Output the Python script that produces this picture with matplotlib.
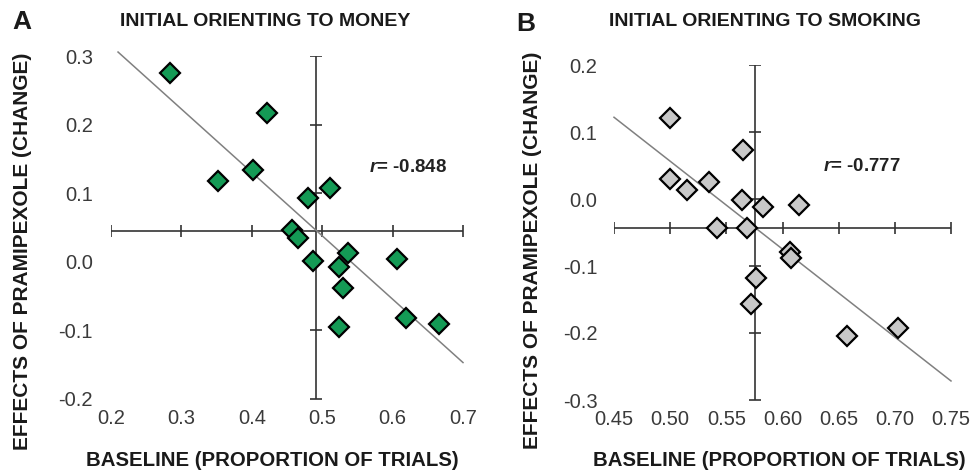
import numpy as np
import matplotlib
matplotlib.use("Agg")
import matplotlib.pyplot as plt

plt.rcParams['font.family'] = ['Liberation Sans', 'DejaVu Sans']
plt.rcParams['mathtext.fontset'] = 'custom'
plt.rcParams['mathtext.it'] = 'Liberation Sans:italic:bold'

# panel A: initial orienting to money
money_x = [0.284, 0.422, 0.402, 0.352, 0.480, 0.511, 0.457, 0.466,
           0.487, 0.537, 0.524, 0.530, 0.524, 0.606, 0.619, 0.666]
money_y = [0.275, 0.217, 0.134, 0.118, 0.093, 0.107, 0.046, 0.035,
           0.001, 0.013, -0.008, -0.038, -0.095, 0.004, -0.082, -0.091]
money_r = "-0.848"

# panel B: initial orienting to smoking
smoke_x = [0.500, 0.565, 0.500, 0.515, 0.535, 0.564, 0.583, 0.615,
           0.542, 0.568, 0.607, 0.608, 0.576, 0.572, 0.657, 0.703]
smoke_y = [0.121, 0.073, 0.030, 0.013, 0.025, -0.001, -0.012, -0.009,
           -0.043, -0.043, -0.079, -0.088, -0.118, -0.157, -0.204, -0.193]
smoke_r = "-0.777"

money_xticks = [0.2, 0.3, 0.4, 0.5, 0.6, 0.7]
money_yticks = [-0.2, -0.1, 0.0, 0.1, 0.2, 0.3]
smoke_xticks = [0.45, 0.50, 0.55, 0.60, 0.65, 0.70, 0.75]
smoke_yticks = [-0.3, -0.2, -0.1, 0.0, 0.1, 0.2]

W, H = 973, 471
fig = plt.figure(figsize=(W / 100, H / 100), dpi=100)
fig.patch.set_facecolor('white')


def px_axes(x0, x1, ytop, ybot):
    return fig.add_axes([x0 / W, 1 - ybot / H, (x1 - x0) / W, (ybot - ytop) / H])


def panel(ax, xs, ys, xticks, yticks, xfmt, fill, fit_range, r, rpos, ypad):
    xs = np.array(xs)
    ys = np.array(ys)
    ax.set_xlim(xticks[0], xticks[-1])
    ax.set_ylim(yticks[0], yticks[-1])
    for s in ax.spines.values():
        s.set_visible(False)
    ax.set_xticks(xticks)
    ax.set_xticklabels([xfmt.format(v) for v in xticks])
    ax.set_yticks(yticks)
    ax.set_yticklabels(["{:.1f}".format(v) for v in yticks])
    ax.tick_params(axis='x', length=0, pad=7, labelsize=14.5, labelcolor='#3a3a3a')
    ax.tick_params(axis='y', length=0, pad=ypad, labelsize=14.5, labelcolor='#3a3a3a')

    # axes crossing at the means
    mx, my = xs.mean(), ys.mean()
    ax.plot([xticks[0], xticks[-1]], [my, my], color='#333333', lw=1.2, zorder=2)
    ax.plot([mx, mx], [yticks[0], yticks[-1]], color='#333333', lw=1.2, zorder=2)
    ax.plot(xticks, [my] * len(xticks), ls='none', marker='|', ms=8,
            mew=1.2, color='#333333', zorder=2)
    ax.plot([mx] * len(yticks), yticks, ls='none', marker='_', ms=9,
            mew=1.2, color='#333333', zorder=2)

    # regression line
    k, b = np.polyfit(xs, ys, 1)
    fx = np.array(fit_range)
    ax.plot(fx, k * fx + b, color='#808080', lw=1.1, zorder=3, clip_on=False)

    ax.plot(xs, ys, ls='none', marker='D', ms=10, mfc=fill, mec='black',
            mew=1.6, zorder=4, clip_on=False)
    ax.text(rpos[0], rpos[1], "$r$= " + r, fontsize=13.5, fontweight='bold',
            ha='left', va='center', color='#222222')


ax1 = px_axes(111, 463, 56, 399)
panel(ax1, money_x, money_y, money_xticks, money_yticks, "{:.1f}", '#149a55',
      [0.21, 0.70], money_r, (0.566, 0.138), 13)

ax2 = px_axes(614, 951, 65, 400)
panel(ax2, smoke_x, smoke_y, smoke_xticks, smoke_yticks, "{:.2f}", '#c8c8c8',
      [0.45, 0.75], smoke_r, (0.636, 0.048), 12)


def ftext(x, y, s, **kw):
    fig.text(x / W, 1 - y / H, s, fontweight='bold', color='#1a1a1a',
             ha='center', va='center', **kw)


ftext(22, 22, "A", fontsize=19)
ftext(526, 24, "B", fontsize=19)
ftext(265, 22, "INITIAL ORIENTING TO MONEY", fontsize=14)
ftext(765, 22, "INITIAL ORIENTING TO SMOKING", fontsize=14)
ftext(272, 460, "BASELINE (PROPORTION OF TRIALS)", fontsize=14.7)
ftext(779, 460, "BASELINE (PROPORTION OF TRIALS)", fontsize=14.7)
ftext(23, 251, "EFFECTS OF PRAMIPEXOLE (CHANGE)", fontsize=15, rotation=90)
ftext(532, 250, "EFFECTS OF PRAMIPEXOLE (CHANGE)", fontsize=15, rotation=90)

fig.savefig("out.png", dpi=100)
